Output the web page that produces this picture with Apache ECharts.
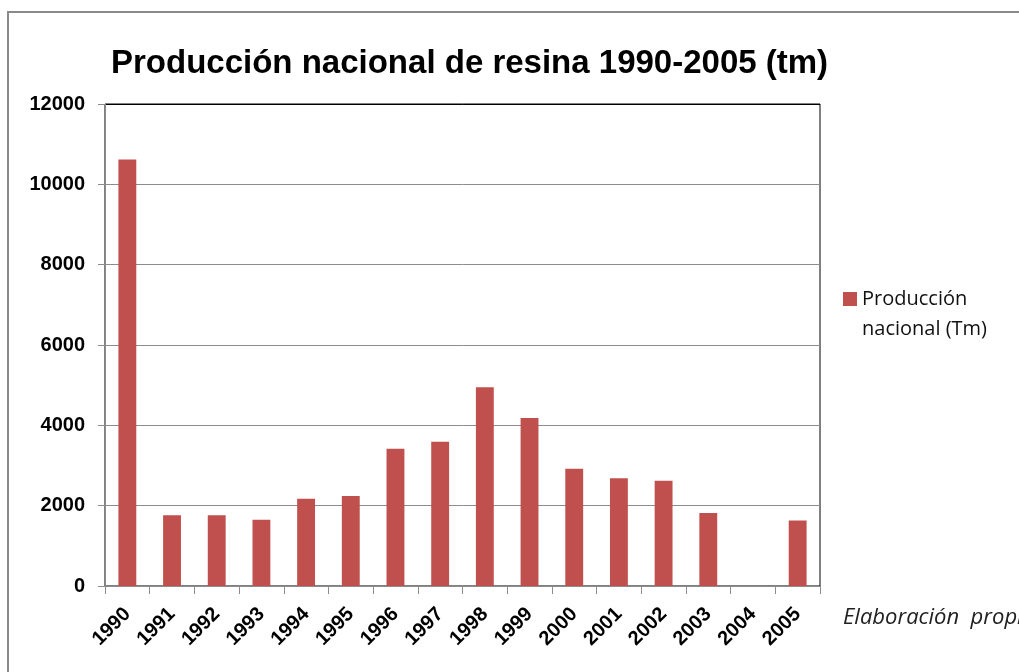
<!DOCTYPE html>
<html>
<head>
<meta charset="utf-8">
<script src="https://cdn.jsdelivr.net/npm/echarts@6/dist/echarts.min.js"></script>
<style>
html,body{margin:0;padding:0;background:#fff;}
#chart{width:1019px;height:672px;}
</style>
</head>
<body>
<div id="chart"></div>
<script>
const titleText = 'Producción nacional de resina 1990-2005 (tm)';
const years = ['1990','1991','1992','1993','1994','1995','1996','1997','1998','1999','2000','2001','2002','2003','2004','2005'];
const produccion = [10620, 1760, 1760, 1650, 2170, 2240, 3420, 3590, 4950, 4180, 2920, 2680, 2620, 1820, 0, 1630];
const seriesName = 'Producción nacional (Tm)';
const legendLines = ['', 'Producción', 'nacional (Tm)'];
const footerText = 'Elaboración  propia';
const yMin = 0, yMax = 12000, yStep = 2000;

const chart = echarts.init(document.getElementById('chart'));
const gridColors = ['#8c8c8c','#8c8c8c','#8c8c8c','#8c8c8c','#8c8c8c','#8c8c8c','#000000'];
chart.setOption({
  animation: false,
  backgroundColor: '#ffffff',
  title: {
    text: titleText,
    left: 106,
    top: 42,
    textStyle: {fontFamily: '"Liberation Sans", sans-serif', fontWeight: 'bold', fontSize: 33, color: '#000'}
  },
  legend: {
    data: [seriesName],
    left: 843,
    top: 254,
    padding: 0,
    icon: 'rect',
    itemWidth: 14,
    itemHeight: 14,
    itemGap: 6,
    formatter: () => legendLines.join('\n'),
    textStyle: {fontFamily: '"Open Sans", sans-serif', fontSize: 20, color: '#111', lineHeight: 30}
  },
  grid: {left: 105, right: 199, top: 104, bottom: 86, show: true, borderColor: '#000', borderWidth: 1, containLabel: false},
  xAxis: {
    type: 'category',
    data: years,
    boundaryGap: true,
    axisLine: {show: true, lineStyle: {color: '#8c8c8c', width: 1}},
    axisTick: {show: true, alignWithLabel: false, length: 8, lineStyle: {color: '#8c8c8c'}},
    axisLabel: {rotate: 45, margin: 25, fontFamily: '"Liberation Sans", sans-serif', fontWeight: 'bold', fontSize: 20, color: '#000', interval: 0},
    splitLine: {show: false}
  },
  yAxis: {
    type: 'value',
    min: yMin, max: yMax, interval: yStep,
    axisLine: {show: true, lineStyle: {color: '#8c8c8c', width: 1}},
    axisTick: {show: true, length: 7, lineStyle: {color: '#8c8c8c'}},
    axisLabel: {margin: 20, formatter: v => String(v), fontFamily: '"Liberation Sans", sans-serif', fontWeight: 'bold', fontSize: 20, color: '#000'},
    splitLine: {show: true, lineStyle: {color: gridColors, width: 1}}
  },
  series: [{
    name: seriesName,
    type: 'bar',
    data: produccion,
    barWidth: '40%',
    itemStyle: {color: '#C0504D'}
  }],
  graphic: [
    {type: 'rect', shape: {x: 8, y: 12, width: 1100, height: 800}, style: {fill: 'none', stroke: '#8a8a8a', lineWidth: 2}, silent: true},
    {type: 'text', left: 843, top: 607, style: {text: footerText, fontFamily: '"Open Sans", sans-serif', fontStyle: 'italic', fontSize: 22, fill: '#222'}}
  ]
});
</script>
</body>
</html>
